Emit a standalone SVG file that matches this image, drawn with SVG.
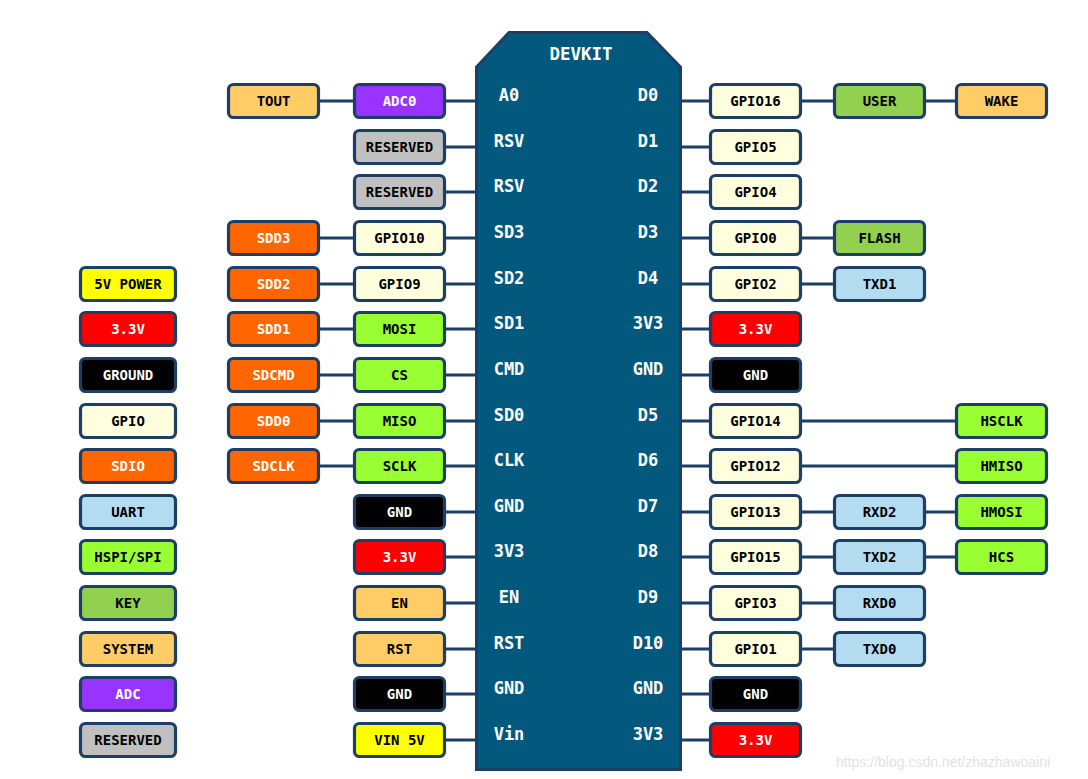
<svg xmlns="http://www.w3.org/2000/svg" width="1088" height="779" viewBox="0 0 1088 779">
<style>
.b rect{stroke:#1d3f66;stroke-width:3.2}
.b text{font-family:"DejaVu Sans Mono","Liberation Mono",monospace;font-weight:bold;font-size:14px;text-anchor:middle}
.w text{fill:#fff}
.k text{fill:#000}
.pin{font-family:"DejaVu Sans Mono","Liberation Mono",monospace;font-weight:bold;font-size:17px;fill:#fff;text-anchor:middle}
#connectors line{stroke:#1d3f66;stroke-width:3}
</style>
<rect width="1088" height="779" fill="#fff"/>
<g id="connectors">
<line x1="273" y1="101" x2="478" y2="101"/>
<line x1="399" y1="147" x2="478" y2="147"/>
<line x1="399" y1="192" x2="478" y2="192"/>
<line x1="273" y1="238" x2="478" y2="238"/>
<line x1="273" y1="284" x2="478" y2="284"/>
<line x1="273" y1="329" x2="478" y2="329"/>
<line x1="273" y1="375" x2="478" y2="375"/>
<line x1="273" y1="421" x2="478" y2="421"/>
<line x1="273" y1="466" x2="478" y2="466"/>
<line x1="399" y1="512" x2="478" y2="512"/>
<line x1="399" y1="557" x2="478" y2="557"/>
<line x1="399" y1="603" x2="478" y2="603"/>
<line x1="399" y1="649" x2="478" y2="649"/>
<line x1="399" y1="694" x2="478" y2="694"/>
<line x1="399" y1="740" x2="478" y2="740"/>
<line x1="678" y1="101" x2="1001" y2="101"/>
<line x1="678" y1="147" x2="755" y2="147"/>
<line x1="678" y1="192" x2="755" y2="192"/>
<line x1="678" y1="238" x2="879" y2="238"/>
<line x1="678" y1="284" x2="879" y2="284"/>
<line x1="678" y1="329" x2="755" y2="329"/>
<line x1="678" y1="375" x2="755" y2="375"/>
<line x1="678" y1="421" x2="1001" y2="421"/>
<line x1="678" y1="466" x2="1001" y2="466"/>
<line x1="678" y1="512" x2="1001" y2="512"/>
<line x1="678" y1="557" x2="1001" y2="557"/>
<line x1="678" y1="603" x2="879" y2="603"/>
<line x1="678" y1="649" x2="879" y2="649"/>
<line x1="678" y1="694" x2="755" y2="694"/>
<line x1="678" y1="740" x2="755" y2="740"/>
</g>
<g id="devkit">
<polygon points="476.5,67 509,32.5 647,32.5 680.5,67 680.5,769.5 476.5,769.5" fill="#03587e" stroke="#1d3f66" stroke-width="3"/>
<text x="581" y="60" class="pin" style="font-size:17.5px">DEVKIT</text>
<text class="pin" x="509" y="101">A0</text>
<text class="pin" x="509" y="147">RSV</text>
<text class="pin" x="509" y="192">RSV</text>
<text class="pin" x="509" y="238">SD3</text>
<text class="pin" x="509" y="284">SD2</text>
<text class="pin" x="509" y="329">SD1</text>
<text class="pin" x="509" y="375">CMD</text>
<text class="pin" x="509" y="421">SD0</text>
<text class="pin" x="509" y="466">CLK</text>
<text class="pin" x="509" y="512">GND</text>
<text class="pin" x="509" y="557">3V3</text>
<text class="pin" x="509" y="603">EN</text>
<text class="pin" x="509" y="649">RST</text>
<text class="pin" x="509" y="694">GND</text>
<text class="pin" x="509" y="740">Vin</text>
<text class="pin" x="648" y="101">D0</text>
<text class="pin" x="648" y="147">D1</text>
<text class="pin" x="648" y="192">D2</text>
<text class="pin" x="648" y="238">D3</text>
<text class="pin" x="648" y="284">D4</text>
<text class="pin" x="648" y="329">3V3</text>
<text class="pin" x="648" y="375">GND</text>
<text class="pin" x="648" y="421">D5</text>
<text class="pin" x="648" y="466">D6</text>
<text class="pin" x="648" y="512">D7</text>
<text class="pin" x="648" y="557">D8</text>
<text class="pin" x="648" y="603">D9</text>
<text class="pin" x="648" y="649">D10</text>
<text class="pin" x="648" y="694">GND</text>
<text class="pin" x="648" y="740">3V3</text>
</g>
<!-- left column 1 -->
<g id="tout" class="b k"><rect x="228.5" y="84.5" width="90" height="33" rx="5" fill="#ffcc66"/><text x="273.5" y="106">TOUT</text></g>
<g id="sdd3" class="b w"><rect x="228.5" y="221.5" width="90" height="33" rx="5" fill="#ff6600"/><text x="273.5" y="243">SDD3</text></g>
<g id="sdd2" class="b w"><rect x="228.5" y="267.5" width="90" height="33" rx="5" fill="#ff6600"/><text x="273.5" y="289">SDD2</text></g>
<g id="sdd1" class="b w"><rect x="228.5" y="312.5" width="90" height="33" rx="5" fill="#ff6600"/><text x="273.5" y="334">SDD1</text></g>
<g id="sdcmd" class="b w"><rect x="228.5" y="358.5" width="90" height="33" rx="5" fill="#ff6600"/><text x="273.5" y="380">SDCMD</text></g>
<g id="sdd0" class="b w"><rect x="228.5" y="404.5" width="90" height="33" rx="5" fill="#ff6600"/><text x="273.5" y="426">SDD0</text></g>
<g id="sdclk" class="b w"><rect x="228.5" y="449.5" width="90" height="33" rx="5" fill="#ff6600"/><text x="273.5" y="471">SDCLK</text></g>
<!-- left column 2 -->
<g id="adc0" class="b w"><rect x="354.5" y="84.5" width="90" height="33" rx="5" fill="#9933ff"/><text x="399.5" y="106">ADC0</text></g>
<g id="rsv1" class="b k"><rect x="354.5" y="130.5" width="90" height="33" rx="5" fill="#c0c0c0"/><text x="399.5" y="152">RESERVED</text></g>
<g id="rsv2" class="b k"><rect x="354.5" y="175.5" width="90" height="33" rx="5" fill="#c0c0c0"/><text x="399.5" y="197">RESERVED</text></g>
<g id="gpio10" class="b k"><rect x="354.5" y="221.5" width="90" height="33" rx="5" fill="#ffffdd"/><text x="399.5" y="243">GPIO10</text></g>
<g id="gpio9" class="b k"><rect x="354.5" y="267.5" width="90" height="33" rx="5" fill="#ffffdd"/><text x="399.5" y="289">GPIO9</text></g>
<g id="mosi" class="b k"><rect x="354.5" y="312.5" width="90" height="33" rx="5" fill="#99ff33"/><text x="399.5" y="334">MOSI</text></g>
<g id="cs" class="b k"><rect x="354.5" y="358.5" width="90" height="33" rx="5" fill="#99ff33"/><text x="399.5" y="380">CS</text></g>
<g id="miso" class="b k"><rect x="354.5" y="404.5" width="90" height="33" rx="5" fill="#99ff33"/><text x="399.5" y="426">MISO</text></g>
<g id="sclk" class="b k"><rect x="354.5" y="449.5" width="90" height="33" rx="5" fill="#99ff33"/><text x="399.5" y="471">SCLK</text></g>
<g id="lgnd1" class="b w"><rect x="354.5" y="495.5" width="90" height="33" rx="5" fill="#000"/><text x="399.5" y="517">GND</text></g>
<g id="l33" class="b w"><rect x="354.5" y="540.5" width="90" height="33" rx="5" fill="#ff0000"/><text x="399.5" y="562">3.3V</text></g>
<g id="en" class="b k"><rect x="354.5" y="586.5" width="90" height="33" rx="5" fill="#ffcc66"/><text x="399.5" y="608">EN</text></g>
<g id="rst" class="b k"><rect x="354.5" y="632.5" width="90" height="33" rx="5" fill="#ffcc66"/><text x="399.5" y="654">RST</text></g>
<g id="lgnd2" class="b w"><rect x="354.5" y="677.5" width="90" height="33" rx="5" fill="#000"/><text x="399.5" y="699">GND</text></g>
<g id="vin5v" class="b k"><rect x="354.5" y="723.5" width="90" height="33" rx="5" fill="#ffff00"/><text x="399.5" y="745">VIN 5V</text></g>
<!-- right column 1 -->
<g id="gpio16" class="b k"><rect x="710.5" y="84.5" width="90" height="33" rx="5" fill="#ffffdd"/><text x="755.5" y="106">GPIO16</text></g>
<g id="gpio5" class="b k"><rect x="710.5" y="130.5" width="90" height="33" rx="5" fill="#ffffdd"/><text x="755.5" y="152">GPIO5</text></g>
<g id="gpio4" class="b k"><rect x="710.5" y="175.5" width="90" height="33" rx="5" fill="#ffffdd"/><text x="755.5" y="197">GPIO4</text></g>
<g id="gpio0" class="b k"><rect x="710.5" y="221.5" width="90" height="33" rx="5" fill="#ffffdd"/><text x="755.5" y="243">GPIO0</text></g>
<g id="gpio2" class="b k"><rect x="710.5" y="267.5" width="90" height="33" rx="5" fill="#ffffdd"/><text x="755.5" y="289">GPIO2</text></g>
<g id="r33a" class="b w"><rect x="710.5" y="312.5" width="90" height="33" rx="5" fill="#ff0000"/><text x="755.5" y="334">3.3V</text></g>
<g id="rgnd1" class="b w"><rect x="710.5" y="358.5" width="90" height="33" rx="5" fill="#000"/><text x="755.5" y="380">GND</text></g>
<g id="gpio14" class="b k"><rect x="710.5" y="404.5" width="90" height="33" rx="5" fill="#ffffdd"/><text x="755.5" y="426">GPIO14</text></g>
<g id="gpio12" class="b k"><rect x="710.5" y="449.5" width="90" height="33" rx="5" fill="#ffffdd"/><text x="755.5" y="471">GPIO12</text></g>
<g id="gpio13" class="b k"><rect x="710.5" y="495.5" width="90" height="33" rx="5" fill="#ffffdd"/><text x="755.5" y="517">GPIO13</text></g>
<g id="gpio15" class="b k"><rect x="710.5" y="540.5" width="90" height="33" rx="5" fill="#ffffdd"/><text x="755.5" y="562">GPIO15</text></g>
<g id="gpio3" class="b k"><rect x="710.5" y="586.5" width="90" height="33" rx="5" fill="#ffffdd"/><text x="755.5" y="608">GPIO3</text></g>
<g id="gpio1" class="b k"><rect x="710.5" y="632.5" width="90" height="33" rx="5" fill="#ffffdd"/><text x="755.5" y="654">GPIO1</text></g>
<g id="rgnd2" class="b w"><rect x="710.5" y="677.5" width="90" height="33" rx="5" fill="#000"/><text x="755.5" y="699">GND</text></g>
<g id="r33b" class="b w"><rect x="710.5" y="723.5" width="90" height="33" rx="5" fill="#ff0000"/><text x="755.5" y="745">3.3V</text></g>
<!-- right column 2 -->
<g id="user" class="b k"><rect x="834.5" y="84.5" width="90" height="33" rx="5" fill="#92d050"/><text x="879.5" y="106">USER</text></g>
<g id="flash" class="b k"><rect x="834.5" y="221.5" width="90" height="33" rx="5" fill="#92d050"/><text x="879.5" y="243">FLASH</text></g>
<g id="txd1" class="b k"><rect x="834.5" y="267.5" width="90" height="33" rx="5" fill="#b4dcf0"/><text x="879.5" y="289">TXD1</text></g>
<g id="rxd2" class="b k"><rect x="834.5" y="495.5" width="90" height="33" rx="5" fill="#b4dcf0"/><text x="879.5" y="517">RXD2</text></g>
<g id="txd2" class="b k"><rect x="834.5" y="540.5" width="90" height="33" rx="5" fill="#b4dcf0"/><text x="879.5" y="562">TXD2</text></g>
<g id="rxd0" class="b k"><rect x="834.5" y="586.5" width="90" height="33" rx="5" fill="#b4dcf0"/><text x="879.5" y="608">RXD0</text></g>
<g id="txd0" class="b k"><rect x="834.5" y="632.5" width="90" height="33" rx="5" fill="#b4dcf0"/><text x="879.5" y="654">TXD0</text></g>
<!-- right column 3 -->
<g id="wake" class="b k"><rect x="956.5" y="84.5" width="90" height="33" rx="5" fill="#ffcc66"/><text x="1001.5" y="106">WAKE</text></g>
<g id="hsclk" class="b k"><rect x="956.5" y="404.5" width="90" height="33" rx="5" fill="#99ff33"/><text x="1001.5" y="426">HSCLK</text></g>
<g id="hmiso" class="b k"><rect x="956.5" y="449.5" width="90" height="33" rx="5" fill="#99ff33"/><text x="1001.5" y="471">HMISO</text></g>
<g id="hmosi" class="b k"><rect x="956.5" y="495.5" width="90" height="33" rx="5" fill="#99ff33"/><text x="1001.5" y="517">HMOSI</text></g>
<g id="hcs" class="b k"><rect x="956.5" y="540.5" width="90" height="33" rx="5" fill="#99ff33"/><text x="1001.5" y="562">HCS</text></g>
<!-- legend -->
<g id="lg-5v" class="b k"><rect x="80.5" y="267.5" width="95" height="33" rx="5" fill="#ffff00"/><text x="128" y="289">5V POWER</text></g>
<g id="lg-33" class="b w"><rect x="80.5" y="312.5" width="95" height="33" rx="5" fill="#ff0000"/><text x="128" y="334">3.3V</text></g>
<g id="lg-gnd" class="b w"><rect x="80.5" y="358.5" width="95" height="33" rx="5" fill="#000"/><text x="128" y="380">GROUND</text></g>
<g id="lg-gpio" class="b k"><rect x="80.5" y="404.5" width="95" height="33" rx="5" fill="#ffffdd"/><text x="128" y="426">GPIO</text></g>
<g id="lg-sdio" class="b w"><rect x="80.5" y="449.5" width="95" height="33" rx="5" fill="#ff6600"/><text x="128" y="471">SDIO</text></g>
<g id="lg-uart" class="b k"><rect x="80.5" y="495.5" width="95" height="33" rx="5" fill="#b4dcf0"/><text x="128" y="517">UART</text></g>
<g id="lg-spi" class="b k"><rect x="80.5" y="540.5" width="95" height="33" rx="5" fill="#99ff33"/><text x="128" y="562">HSPI/SPI</text></g>
<g id="lg-key" class="b k"><rect x="80.5" y="586.5" width="95" height="33" rx="5" fill="#92d050"/><text x="128" y="608">KEY</text></g>
<g id="lg-sys" class="b k"><rect x="80.5" y="632.5" width="95" height="33" rx="5" fill="#ffcc66"/><text x="128" y="654">SYSTEM</text></g>
<g id="lg-adc" class="b w"><rect x="80.5" y="677.5" width="95" height="33" rx="5" fill="#9933ff"/><text x="128" y="699">ADC</text></g>
<g id="lg-rsv" class="b k"><rect x="80.5" y="723.5" width="95" height="33" rx="5" fill="#c0c0c0"/><text x="128" y="745">RESERVED</text></g>
<text x="836" y="767" font-family="Liberation Sans, Arial, sans-serif" font-size="14" fill="#e2e2e2">https://blog.csdn.net/zhazhawoaini</text>
</svg>
